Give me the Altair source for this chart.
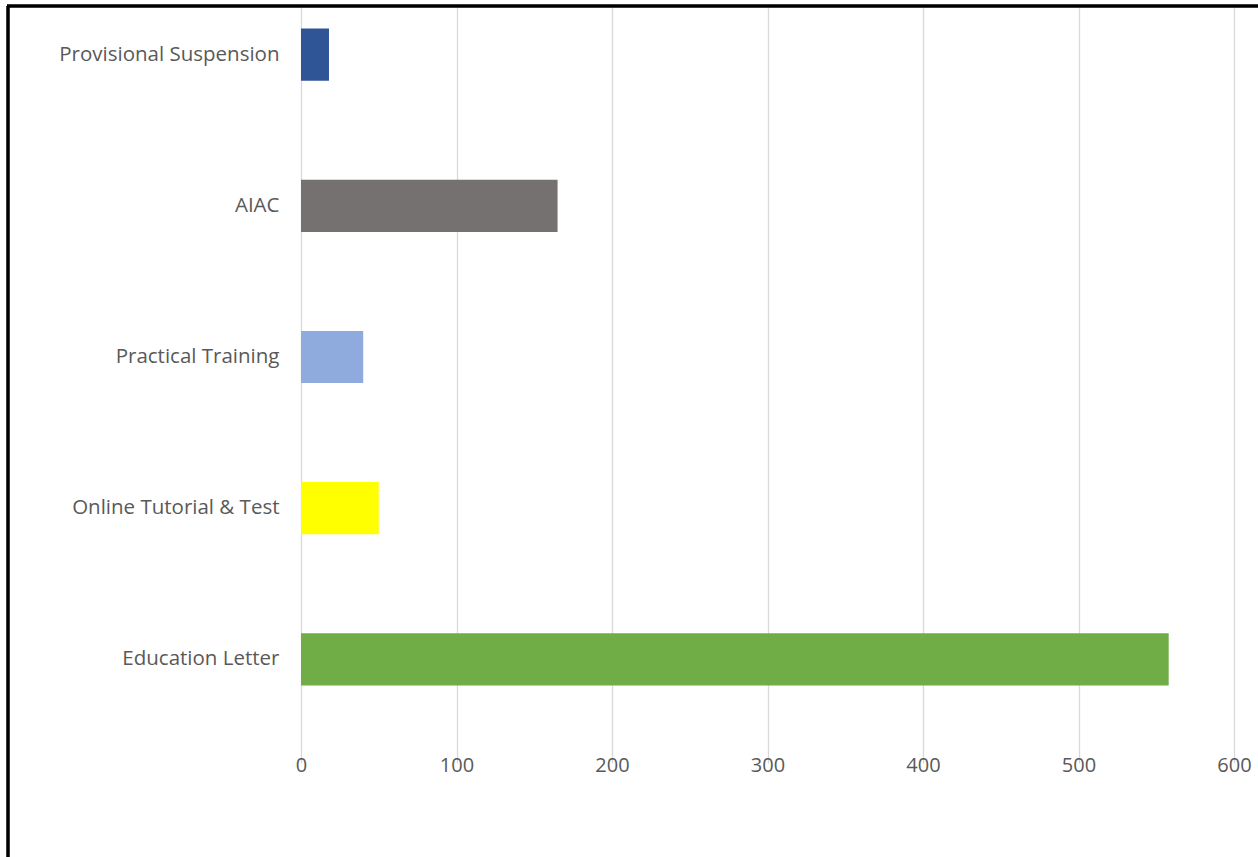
import altair as alt
import pandas as pd

categories = ["Provisional Suspension", "AIAC", "Practical Training",
              "Online Tutorial & Test\u00a0", "Education Letter"]
values = [18, 165, 40, 50, 558]
colors = ["#2F5597", "#767171", "#8FAADC", "#FFFF00", "#70AD47"]
x_ticks = [0, 100, 200, 300, 400, 500, 600]

df = pd.DataFrame({"category": categories, "value": values, "color": colors})

FONT = "Open Sans"
LABEL_COLOR = "#595959"

bars = alt.Chart(df).mark_bar().encode(
    x=alt.X("value:Q",
            scale=alt.Scale(domain=[0, 600], nice=False),
            axis=alt.Axis(values=x_ticks, title=None, domain=False, ticks=False,
                          grid=True, gridColor="#D9D9D9", gridWidth=1.3,
                          labelFlush=False,
                          labelPadding=20, labelFontSize=20, labelFont=FONT,
                          labelColor=LABEL_COLOR)),
    y=alt.Y("category:N", sort=categories,
            scale=alt.Scale(range=[-28, 728], paddingInner=0.655, paddingOuter=0.3275),
            axis=alt.Axis(title=None, domain=False, ticks=False, grid=False,
                          labelPadding=22, labelFontSize=20.5, labelFont=FONT,
                          labelColor=LABEL_COLOR, labelLimit=400)),
    color=alt.Color("color:N", scale=None),
)

frame_left = alt.Chart(df).mark_rule(color="black", strokeWidth=2.5).encode(
    x=alt.value(-293), y=alt.value(-1), y2=alt.value(860)
)
frame_top = alt.Chart(df).mark_rule(color="black", strokeWidth=2.5).encode(
    x=alt.value(-294), x2=alt.value(960), y=alt.value(-1)
)

chart = alt.layer(bars, frame_left, frame_top).properties(
    width=933, height=728,
    autosize=alt.AutoSizeParams(type="none"),
    padding={"left": 301, "top": 7, "right": 24, "bottom": 122},
    background="white",
).configure_view(stroke=None)

chart.save("out.html", embed_options={"renderer": "svg", "actions": False})
